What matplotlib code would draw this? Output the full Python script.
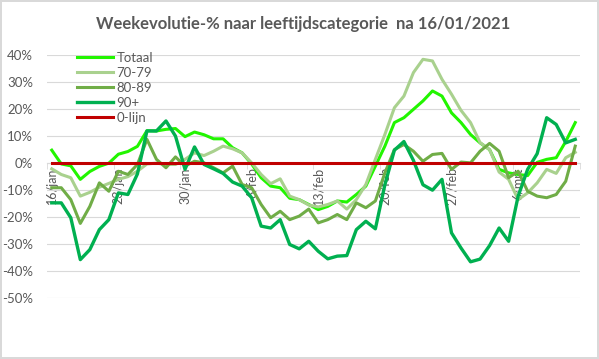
import numpy as np
import matplotlib.pyplot as plt
from matplotlib.ticker import PercentFormatter, FixedLocator

# weekevolutie in %, dagelijks vanaf 16/01/2021
totaal = [4.8, -0.3, -1.0, -6.0, -3.1, -1.2, 0.0, 3.3, 4.3, 6.2,
          12.0, 11.9, 12.5, 12.8, 9.8, 11.5, 10.5, 9.0, 9.0, 5.7,
          3.8, -0.3, -5.4, -8.5, -9.1, -13.0, -13.5, -15.3, -17.2, -16.0,
          -14.0, -14.4, -11.6, -8.5, -1.1, 6.3, 15.0, 16.8, 19.9, 23.0,
          26.7, 24.8, 18.6, 15.0, 10.6, 7.5, 5.0, -2.3, -3.6, -4.2,
          -4.6, 0.3, 1.4, 2.0, 8.0, 15.0]
g70_79 = [-2.1, -4.2, -5.4, -12.2, -10.8, -8.9, -7.5, -6.0, -5.0, -3.0,
          -0.3, 0.0, -0.5, -0.5, 1.4, 3.8, 2.8, 4.4, 6.3, 5.3,
          3.8, 0.1, -4.2, -7.6, -5.8, -12.2, -13.5, -15.5, -16.2, -15.3,
          -14.0, -17.0, -13.5, -7.9, 1.4, 10.6, 20.5, 24.8, 33.5, 38.4,
          37.8, 31.0, 25.5, 19.5, 15.0, 7.6, 5.0, -3.3, -6.0, -13.5,
          -11.0, -7.3, -2.3, -3.8, 2.0, 4.0]
g80_89 = [-9.1, -9.1, -13.5, -22.3, -16.0, -7.3, -10.4, -3.0, -4.2, -0.5,
          8.8, 1.4, -1.7, 2.3, -1.1, 0.7, 0.1, -1.7, -3.6, -1.1,
          -7.9, -9.1, -15.3, -20.2, -17.8, -20.9, -19.6, -17.0, -22.1, -20.9,
          -19.0, -20.9, -14.7, -16.5, -14.0, -3.6, 5.0, 6.9, 4.4, 0.7,
          3.2, 3.6, -2.3, 0.4, 0.1, 4.4, 7.3, 4.4, -5.4, -3.0,
          -10.4, -12.2, -12.8, -11.6, -6.7, 6.3]
g90 = [-14.7, -14.7, -20.2, -35.7, -32.0, -24.6, -20.9, -11.0, -11.6, -4.0,
       11.9, 11.9, 15.6, 10.0, -2.3, 6.0, -0.5, -2.1, -3.8, -7.0,
       -8.5, -12.8, -23.3, -24.0, -20.9, -30.1, -31.7, -28.9, -32.6, -35.4,
       -34.4, -34.2, -24.6, -21.5, -24.3, -8.0, 4.8, 8.0, 1.0, -8.0,
       -10.0, -6.0, -25.8, -31.4, -36.5, -35.5, -30.5, -24.0, -28.9, -12.2,
       -2.3, 3.5, 16.8, 14.3, 7.5, 8.8]
nul_lijn = [0.0] * len(totaal)

tick_labels = ['16/jan', '23/jan', '30/jan', '6/feb', '13/feb', '20/feb', '27/feb', '6/mrt']

plt.rcParams['font.family'] = ['Lato', 'DejaVu Sans']
plt.rcParams['axes.unicode_minus'] = False

x = np.arange(len(totaal))
grey = '#595959'

fig = plt.figure(figsize=(5.99, 3.59), dpi=100, edgecolor='#D9D9D9', linewidth=1.5)
ax = fig.add_axes([47 / 599, (359 - 298.3) / 359, (580 - 47) / 599, (298.3 - 55) / 359])

ax.plot(x, totaal, color='#22F500', lw=2.2, label='Totaal')
ax.plot(x, g70_79, color='#A9D18E', lw=2.2, label='70-79')
ax.plot(x, g80_89, color='#70AD47', lw=2.2, label='80-89')
ax.plot(x, g90, color='#00B050', lw=2.4, label='90+')
ax.plot(x, nul_lijn, color='#C00000', lw=2.2, label='0-lijn', zorder=3)

ax.set_xlim(-0.5, len(totaal) - 0.5)
ax.set_ylim(-50, 40)
ax.set_yticks(np.arange(-50, 41, 10))
ax.yaxis.set_major_formatter(PercentFormatter(decimals=0))
ax.grid(axis='y', color='#D9D9D9', lw=0.8)
ax.set_axisbelow(True)

for s in ['top', 'right', 'left']:
    ax.spines[s].set_visible(False)
ax.spines['bottom'].set_position(('data', 0))
ax.spines['bottom'].set_color('#D9D9D9')
ax.spines['bottom'].set_zorder(1.5)

ax.set_xticks(x[::7])
ax.set_xticklabels(tick_labels, rotation=90, va='top', ha='center')
ax.xaxis.set_minor_locator(FixedLocator(np.arange(-0.5, len(totaal), 7)))
ax.tick_params(axis='x', which='major', length=0, pad=3, labelsize=9, labelcolor=grey)
ax.tick_params(axis='x', which='minor', length=4, color='#D9D9D9')
ax.tick_params(axis='y', length=0, pad=10, labelsize=9.5, labelcolor=grey)

ax.legend(loc='upper left', bbox_to_anchor=(77 / 599, (359 - 52) / 359),
          bbox_transform=fig.transFigure, frameon=False, fontsize=9.5,
          handlelength=2.7, handletextpad=0.3, labelspacing=0.22,
          borderpad=0, borderaxespad=0, labelcolor=grey)

fig.text(303 / 599, (359 - 24) / 359, 'Weekevolutie-% naar leeftijdscategorie  na 16/01/2021',
         ha='center', va='center', fontsize=12, fontweight='bold', color=grey)

fig.savefig('out.png', dpi=100)
